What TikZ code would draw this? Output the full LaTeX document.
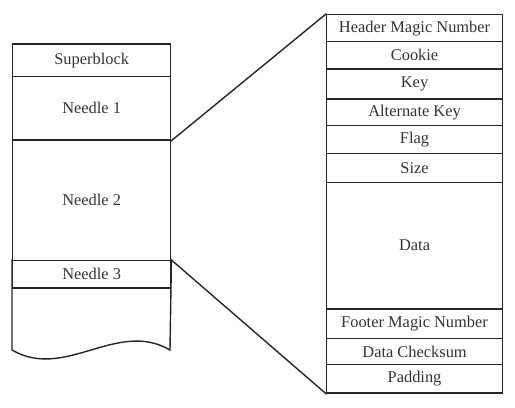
\documentclass[tikz,border=0pt]{standalone}
\usepackage{fontspec}
\setmainfont{Liberation Serif}
\tikzset{
  cell/.style={draw=black!85, line width=1.4bp, inner sep=0pt, anchor=north west,
    font=\fontsize{16.4bp}{18bp}\selectfont, text=black!80},
  conn/.style={draw=black!85, line width=1.4bp, line join=miter, line cap=rect},
}
\newcommand{\lcell}[4]{\node[cell, minimum width=158bp, minimum height=#3 bp] (#1) at (12,#2) {#4};}
\newcommand{\rcell}[4]{\node[cell, minimum width=175.7bp, minimum height=#3 bp] (#1) at (326,#2) {#4};}
\begin{document}
\begin{tikzpicture}[x=1bp,y=-1bp]
\useasboundingbox (0,0) rectangle (515,407);
% left column
\lcell{sb}{43.3}{32.7}{Superblock}
\lcell{n1}{76}{63.3}{Needle 1}
\lcell{n2}{139.3}{120.7}{Needle 2}
\lcell{n3}{260}{27.3}{Needle 3}
\coordinate (wl) at (12,350);
\coordinate (wr) at (170,350);
\draw[conn] (n3.north west) -- (wl) .. controls (65,381) and (117,319) .. (wr) -- (n3.north east);
% right column
\rcell{hm}{14}{27}{Header Magic Number}
\rcell{ck}{41}{27.3}{Cookie}
\rcell{ky}{68.3}{30}{Key}
\rcell{ak}{98.3}{26.7}{Alternate Key}
\rcell{fl}{125}{27.7}{Flag}
\rcell{sz}{152.7}{29}{Size}
\rcell{dt}{181.7}{126.6}{Data}
\rcell{fm}{308.3}{29.4}{Footer Magic Number}
\rcell{cs}{337.7}{26.3}{Data Checksum}
\rcell{pd}{364}{28.3}{Padding}
% connectors
\draw[conn] (n1.south east) -- (hm.north west);
\draw[conn] (n3.north east) -- (pd.south west);
\end{tikzpicture}
\end{document}
